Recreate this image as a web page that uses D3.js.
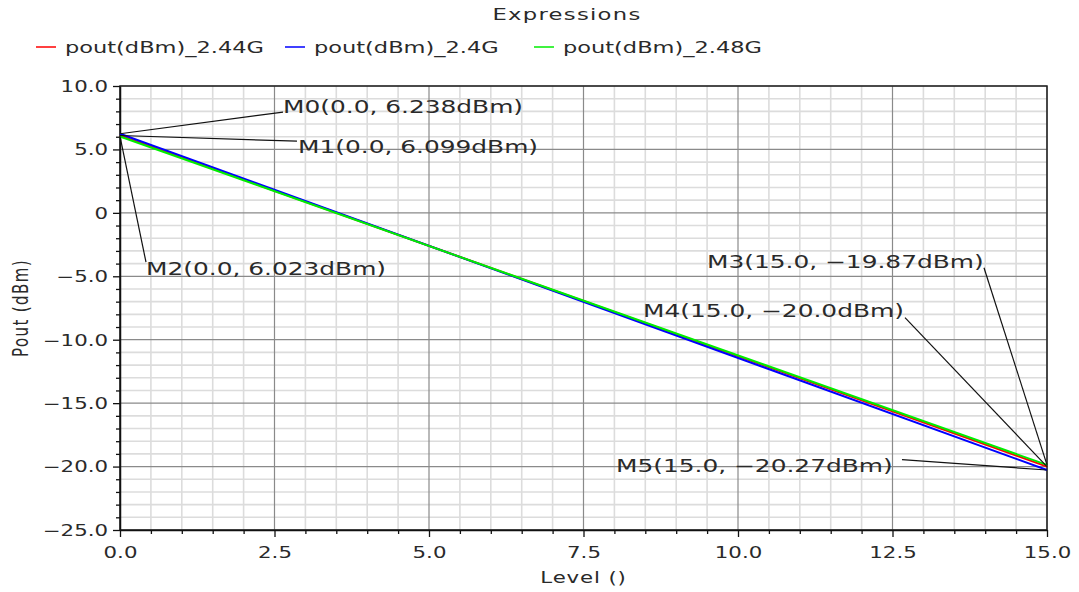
<!DOCTYPE html>
<html>
<head>
<meta charset="utf-8">
<script src="https://cdn.jsdelivr.net/npm/d3@7"></script>
<style>
  html, body { margin: 0; padding: 0; background: #fff; }
  svg { display: block; font-family: "DejaVu Sans", sans-serif; }
</style>
</head>
<body>
<svg id="chart" width="1079" height="592"></svg>
<script>
// Sweep of output power vs. level, three frequencies
const levels   = [0, 15];
const pout244  = [6.099, -20.0];
const pout24   = [6.238, -20.27];
const pout248  = [6.023, -19.87];

const seriesNames  = ["pout(dBm)_2.44G", "pout(dBm)_2.4G", "pout(dBm)_2.48G"];
const seriesColors = ["#ff0000", "#0000ff", "#00ee00"];
const seriesValues = [pout244, pout24, pout248];

// Axis ticks
const xMajorTicks = [0, 2.5, 5, 7.5, 10, 12.5, 15];
const yMajorTicks = [-25, -20, -15, -10, -5, 0, 5, 10];

// Markers placed on the traces
const markerNames  = ["M0", "M1", "M2", "M3", "M4", "M5"];
const markerLevels = [0, 0, 0, 15, 15, 15];
const markerValues = [6.238, 6.099, 6.023, -19.87, -20.0, -20.27];

// Label placement for each marker, relative to its point (px)
const markerLayout = [
  { tx: 163, ty: -20.6, lx: 163, ly: -21.6 },
  { tx: 178, ty: 17.7,  lx: 177, ly: 5.7 },
  { tx: 26,  ty: 138.7, lx: 26,  ly: 125.7 },
  { tx: -340, ty: -197.2, lx: -63, ly: -197.2 },
  { tx: -404, ty: -149.9, lx: -142, ly: -148.9 },
  { tx: -431, ty: 1.7,  lx: -145, ly: -10.3 }
];

const SX = 1.42; // horizontal stretch of the viewer's type
const SX_LEGEND = 1.5;

const svg = d3.select("#chart");
const x = d3.scaleLinear().domain([0, 15]).range([120, 1047]);
const y = d3.scaleLinear().domain([-25, 10]).range([530, 86]);

// Minor grid
const xMinor = d3.range(0, 15.001, 0.5).filter(v => Math.abs(v / 2.5 - Math.round(v / 2.5)) > 1e-6);
const yMinor = d3.range(-25, 10.001, 1).filter(v => v % 5 !== 0);

const grid = svg.append("g");
grid.selectAll(".vminor").data(xMinor).join("line")
  .attr("x1", d => x(d)).attr("x2", d => x(d))
  .attr("y1", y(10)).attr("y2", y(-25))
  .attr("stroke", "#dcdcdc").attr("stroke-width", 1.6);
grid.selectAll(".hminor").data(yMinor).join("line")
  .attr("x1", x(0)).attr("x2", x(15))
  .attr("y1", d => y(d)).attr("y2", d => y(d))
  .attr("stroke", "#dcdcdc").attr("stroke-width", 1.6);
grid.selectAll(".vmajor").data(xMajorTicks).join("line")
  .attr("x1", d => x(d)).attr("x2", d => x(d))
  .attr("y1", y(10)).attr("y2", y(-25))
  .attr("stroke", "#8a8a8a").attr("stroke-width", 1.2);
grid.selectAll(".hmajor").data(yMajorTicks).join("line")
  .attr("x1", x(0)).attr("x2", x(15))
  .attr("y1", d => y(d)).attr("y2", d => y(d))
  .attr("stroke", "#8a8a8a").attr("stroke-width", 1.2);

// Frame
svg.append("rect")
  .attr("x", x(0)).attr("y", y(10))
  .attr("width", x(15) - x(0)).attr("height", y(-25) - y(10))
  .attr("fill", "none").attr("stroke", "#222").attr("stroke-width", 1.5);

// Axes
const yFmt = d => d === 0 ? "0" : d3.format(".1f")(d);
const xFmt = d3.format(".1f");

const yAxis = svg.append("g").attr("transform", `translate(${x(0)},0)`)
  .call(d3.axisLeft(y).tickValues(yMajorTicks).tickFormat(yFmt).tickSize(7).tickSizeOuter(0));
svg.append("g").attr("transform", `translate(${x(0)},0)`)
  .call(d3.axisLeft(y).tickValues(yMinor).tickFormat("").tickSize(4).tickSizeOuter(0))
  .call(g => g.select(".domain").remove());

const xAxis = svg.append("g").attr("transform", `translate(0,${y(-25)})`)
  .call(d3.axisBottom(x).tickValues(xMajorTicks).tickFormat(xFmt).tickSize(7).tickSizeOuter(0));
svg.append("g").attr("transform", `translate(0,${y(-25)})`)
  .call(d3.axisBottom(x).tickValues(xMinor).tickFormat("").tickSize(4).tickSizeOuter(0))
  .call(g => g.select(".domain").remove());

svg.selectAll(".tick line").attr("stroke", "#111").attr("stroke-width", 1.3);
svg.selectAll(".domain").attr("stroke", "#111").attr("stroke-width", 1.5);

yAxis.selectAll(".tick text")
  .attr("x", 0).attr("dy", "0.36em")
  .attr("transform", `translate(-12,0) scale(${SX},1)`)
  .attr("font-size", 15).attr("fill", "#2a2a2a").attr("font-family", "DejaVu Sans");
xAxis.selectAll(".tick text")
  .attr("y", 0).attr("dy", "0.71em")
  .attr("transform", `translate(0,17) scale(${SX},1)`)
  .attr("font-size", 15).attr("fill", "#2a2a2a").attr("font-family", "DejaVu Sans");

// Axis titles
svg.append("text")
  .attr("transform", `translate(${(x(0) + x(15)) / 2},583) scale(${SX},1)`)
  .attr("text-anchor", "middle").attr("font-size", 15).attr("fill", "#2a2a2a")
  .attr("letter-spacing", 0.6)
  .text("Level ()");
svg.append("text")
  .attr("transform", `translate(28,${(y(10) + y(-25)) / 2}) rotate(-90) scale(1,${SX})`)
  .attr("text-anchor", "middle").attr("font-size", 15).attr("fill", "#2a2a2a")
  .attr("letter-spacing", 1.4)
  .text("Pout (dBm)");

// Title
svg.append("text")
  .attr("transform", `translate(567,20) scale(${SX},1)`)
  .attr("text-anchor", "middle").attr("font-size", 16).attr("fill", "#2a2a2a")
  .attr("letter-spacing", 0.9)
  .text("Expressions");

// Legend: equal-width slots sized by the longest entry
const legend = svg.append("g");
const entries = seriesNames.map((name, i) => {
  const g = legend.append("g");
  g.append("line")
    .attr("x1", 0).attr("x2", 20).attr("y1", 47).attr("y2", 47)
    .attr("stroke", seriesColors[i]).attr("stroke-width", 1.5);
  const t = g.append("text")
    .attr("transform", `translate(29,53) scale(${SX_LEGEND},1)`)
    .attr("font-size", 15).attr("fill", "#2a2a2a")
    .text(name);
  return { g, w: t.node().getComputedTextLength() * SX_LEGEND };
});
const slot = 29 + d3.max(entries, e => e.w) + 21;
entries.forEach((e, i) => e.g.attr("transform", `translate(${36 + i * slot},0)`));

// Traces
const line = d3.line().x(d => x(d[0])).y(d => y(d[1]));
const plot = svg.append("g");
seriesValues.forEach((vals, i) => {
  plot.append("path")
    .datum(levels.map((lv, k) => [lv, vals[k]]))
    .attr("d", line)
    .attr("fill", "none")
    .attr("stroke", seriesColors[i])
    .attr("stroke-width", 2);
});

// Marker labels with leaders
function fmtVal(v) {
  let s = v.toPrecision(4);
  if (s.includes(".")) {
    s = s.replace(/0+$/, "");
    if (s.endsWith(".")) s += "0";
  }
  return s.replace("-", "\u2212");
}
const mk = svg.append("g");
markerNames.forEach((name, i) => {
  const px = x(markerLevels[i]), py = y(markerValues[i]);
  const L = markerLayout[i];
  mk.append("line")
    .attr("x1", px).attr("y1", py)
    .attr("x2", px + L.lx).attr("y2", py + L.ly)
    .attr("stroke", "#111").attr("stroke-width", 1.2);
  mk.append("text")
    .attr("transform", `translate(${px + L.tx},${py + L.ty}) scale(${SX},1)`)
    .attr("font-size", 17.5).attr("fill", "#2a2a2a")
    .text(`${name}(${markerLevels[i].toFixed(1)}, ${fmtVal(markerValues[i])}dBm)`);
});
</script>
</body>
</html>
